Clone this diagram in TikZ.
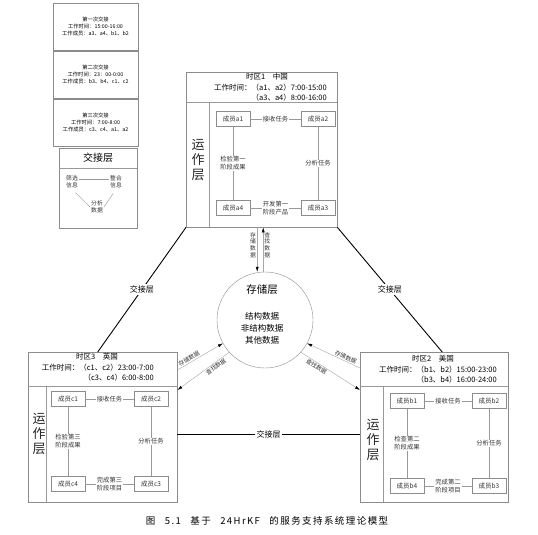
\documentclass[tikz,border=0pt]{standalone}
\usepackage{fontspec}
\setmainfont{Noto Sans CJK SC}
\newfontfamily\capfont[LetterSpace=15]{Noto Sans CJK SC}
\usetikzlibrary{positioning,arrows.meta}

\begin{document}
\begin{tikzpicture}[x=1pt, y=-1pt,
  box/.style = {draw=black!45, anchor=north west, inner sep=0pt},
  legend/.style = {draw=black!45, minimum width=85pt, minimum height=47.5pt, align=center, font=\fontsize{5.3}{7}\selectfont},
  member/.style = {draw=black!45, minimum width=34pt, minimum height=15pt, inner sep=1pt, text=black!80, font=\fontsize{6.5}{7}\selectfont},
  link/.style = {draw=black!40},
  task/.style = {fill=white, inner sep=1pt, align=center, text=black!80, font=\fontsize{6.3}{8}\selectfont},
  zone/.style = {font=\fontsize{7.5}{9.5}\selectfont},
  work/.style = {align=right, anchor=north east, inner sep=0pt, font=\fontsize{7.5}{9.5}\selectfont},
  ops/.style = {align=center, text=black!85, font=\fontsize{13}{15}\selectfont},
  handover/.style = {draw=black, line width=0.9pt},
  hlabel/.style = {fill=white, inner sep=1.5pt, font=\fontsize{8}{9}\selectfont},
  data/.style = {draw=black!35, -{Latex[black, length=5pt, width=3pt]}},
  dlabel/.style = {inner sep=1pt, align=center, text=black!80, font=\fontsize{5.8}{6.8}\selectfont}]

\useasboundingbox (0,0) rectangle (538,535);

\node[legend] (j1) at (95.5,26.75) {第一次交接\\工作时间：15:00-16:00\\工作成员：a3、a4、b1、b2};
\node[legend, below=0pt of j1] (j2) {第二次交接\\工作时间：23：00-0:00\\工作成员：b3、b4、c1、c2};
\node[legend, below=0pt of j2] (j3) {第三次交接\\工作时间：7:00-8:00\\工作成员：c3、c4、a1、a2};

\node[box, minimum width=78pt, minimum height=80pt] (jb) at (59,148) {};
\draw[link] ([yshift=-20pt]jb.north west) -- ([yshift=-20pt]jb.north east);
\node[font=\fontsize{10}{11}\selectfont] (jt) at (98,158) {交接层};
\node[dlabel] (sx) at (72,182) {筛选\\信息};
\node[dlabel] (zh) at (116,182) {整合\\信息};
\node[dlabel] (fx) at (97,207) {分析\\数据};
\draw[link] ([yshift=3pt]sx.east) -- ([yshift=3pt]zh.west);
\draw[link, shorten <=5pt] (sx.south) -- (fx.west);
\draw[link, shorten <=5pt] (zh.south) -- (fx.east);

\node[box, minimum width=151pt, minimum height=155pt] (cn) at (186,72) {};
\draw[link] ([yshift=-30pt]cn.north west) -- ([yshift=-30pt]cn.north east);
\draw[link] (209,102) -- (cn.south west -| 209,0);
\node[zone] (cnz) at (267,77) {时区1\quad 中国};
\node[work] (cnw) at (327,84) {工作时间：（a1、a2）7:00-15:00\\（a3、a4）8:00-16:00};
\node[ops] (cno) at (198,160) {运\\作\\层};
\node[member] (a1) at (233,119) {成员a1};
\node[member] (a2) at (318,119) {成员a2};
\node[member] (a3) at (318,208) {成员a3};
\node[member] (a4) at (233,208) {成员a4};
\draw[link] (a1) -- node[task] {接收任务} (a2);
\draw[link] (a2) -- node[task] {分析任务} (a3);
\draw[link] (a3) -- node[task] {开发第一\\阶段产品} (a4);
\draw[link] (a4) -- node[task] {检验第一\\阶段成果} (a1);

\node[box, minimum width=149pt, minimum height=150pt] (uk) at (28,352) {};
\draw[link] ([yshift=-34pt]uk.north west) -- ([yshift=-34pt]uk.north east);
\draw[link] (46,386) -- (uk.south west -| 46,0);
\node[zone] (ukz) at (97,357) {时区3\quad 英国};
\node[work] (ukw) at (154,364) {工作时间：（c1、c2）23:00-7:00\\（c3、c4）6:00-8:00};
\node[ops] (uko) at (39,434) {运\\作\\层};
\node[member] (c1) at (68,399) {成员c1};
\node[member] (c2) at (151,399) {成员c2};
\node[member] (c3) at (151,484) {成员c3};
\node[member] (c4) at (68,484) {成员c4};
\draw[link] (c1) -- node[task] {接收任务} (c2);
\draw[link] (c2) -- node[task] {分析任务} (c3);
\draw[link] (c3) -- node[task] {完成第三\\阶段项目} (c4);
\draw[link] (c4) -- node[task] {检验第三\\阶段成果} (c1);

\node[box, minimum width=148pt, minimum height=150pt] (us) at (360,352) {};
\draw[link] ([yshift=-34pt]us.north west) -- ([yshift=-34pt]us.north east);
\draw[link] (383,386) -- (us.south west -| 383,0);
\node[zone] (usz) at (433,359) {时区2\quad 美国};
\node[work] (usw) at (497,366) {工作时间：（b1、b2）15:00-23:00\\（b3、b4）16:00-24:00};
\node[ops] (uso) at (373,440) {运\\作\\层};
\node[member] (b1) at (407,401) {成员b1};
\node[member] (b2) at (489,401) {成员b2};
\node[member] (b3) at (489,486) {成员b3};
\node[member] (b4) at (407,486) {成员b4};
\draw[link] (b1) -- node[task] {接收任务} (b2);
\draw[link] (b2) -- node[task] {分析任务} (b3);
\draw[link] (b3) -- node[task] {完成第二\\阶段项目} (b4);
\draw[link] (b4) -- node[task] {检查第二\\阶段成果} (b1);

\node[draw=black!45, circle, minimum size=96pt] (st) at (265,320) {};
\node[align=center, font=\fontsize{8.5}{12}\selectfont] (stt) at (262,314) {{\fontsize{10.5}{12}\selectfont 存储层}\\[14pt]结构数据\\非结构数据\\其他数据};

\draw[data] ([xshift=-4.5pt]cn.south) -- node[dlabel, left, pos=0.4] {存\\储\\数\\据} ([xshift=-4.5pt]cn.south |- st.north);
\draw[data] ([xshift=1.5pt]cn.south |- st.north) -- node[dlabel, right, pos=0.6] {查\\找\\数\\据} ([xshift=1.5pt]cn.south);
\draw[data] ([yshift=-18pt]uk.north east) -- node[dlabel, sloped, above, pos=0.3] {存储数据} (st.209);
\draw[data] (st.222) -- node[dlabel, sloped, below, pos=0.3] {查找数据} ([yshift=-38pt]uk.north east);
\draw[data] ([yshift=-16pt]us.north west) -- node[dlabel, sloped, above, pos=0.3] {存储数据} (st.331);
\draw[data] (st.318) -- node[dlabel, sloped, below, pos=0.3] {查找数据} ([yshift=-38pt]us.north west);

\draw[handover] (cn.south west) -- node[hlabel] {交接层} ([xshift=-5pt]uk.north);
\draw[handover] (cn.south east) -- node[hlabel] {交接层} ([xshift=8pt]us.north);
\draw[handover] ([yshift=-7pt]uk.east) -- node[hlabel] {交接层} ([yshift=-7pt]us.west);

\node[font=\capfont\fontsize{9.5}{10}\selectfont] (cap) at (267,521) {图\quad 5.1\quad 基于\quad 24HrKF\quad 的服务支持系统理论模型};
\end{tikzpicture}
\end{document}
